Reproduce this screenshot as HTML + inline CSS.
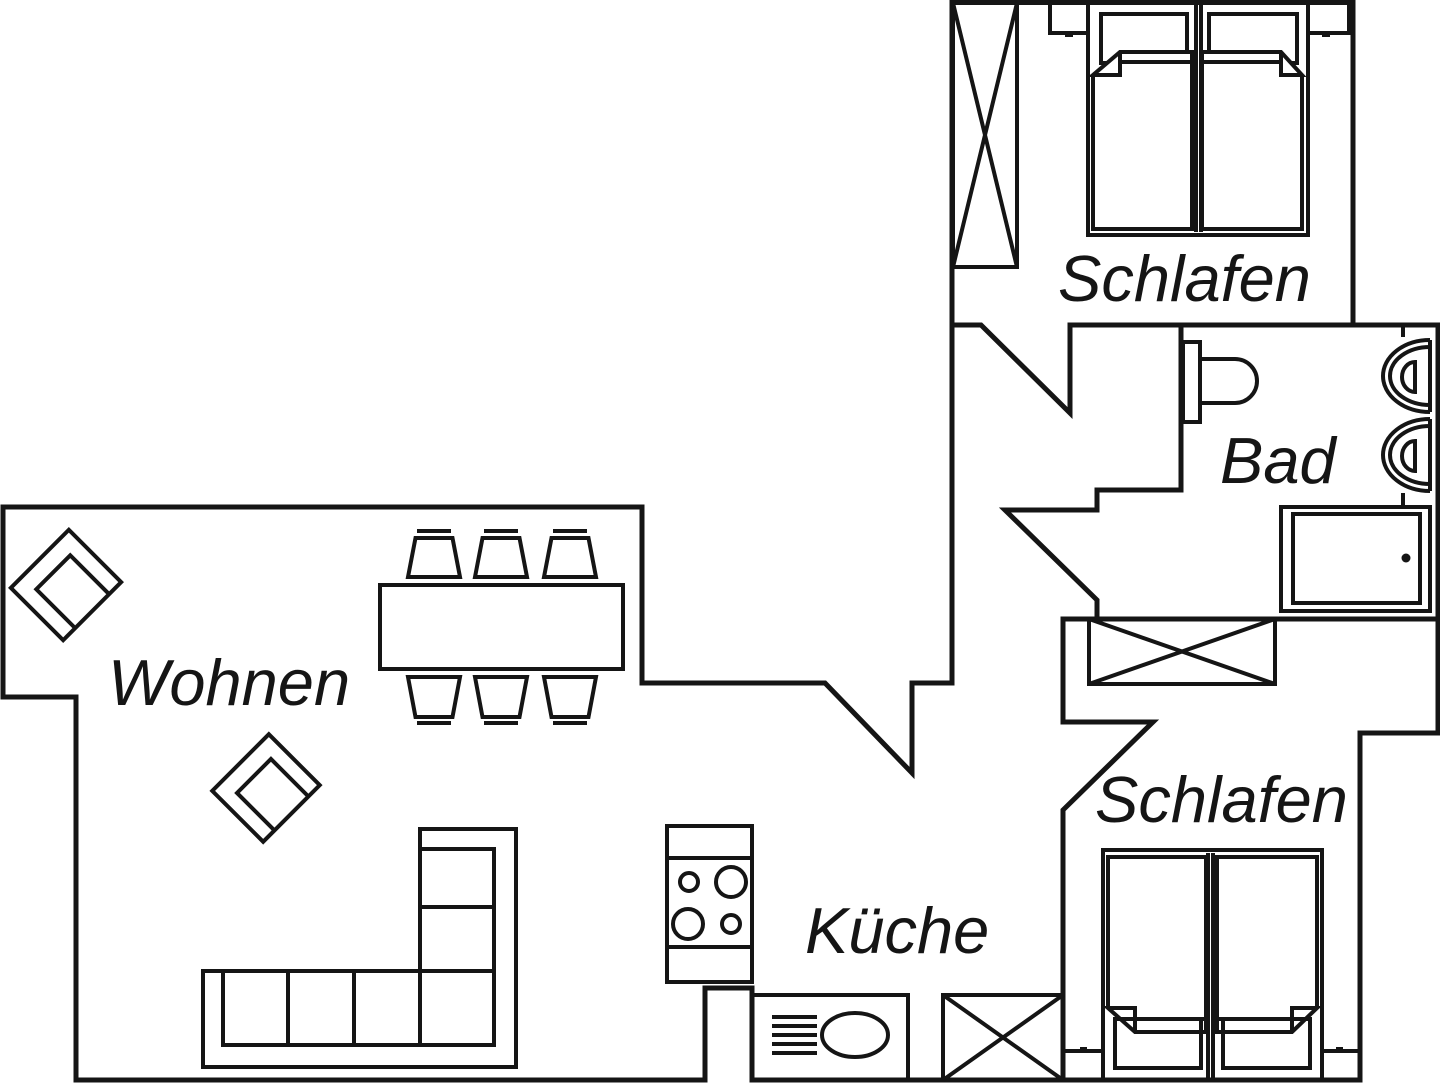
<!DOCTYPE html>
<html>
<head>
<meta charset="utf-8">
<style>
  html,body{margin:0;padding:0;background:#fff;}
  svg{display:block;}
  text{font-family:"Liberation Sans",Arial,sans-serif;font-style:italic;fill:#151515;}
</style>
</head>
<body>
<svg width="1440" height="1083" viewBox="0 0 1440 1083" xmlns="http://www.w3.org/2000/svg">
  <rect x="0" y="0" width="1440" height="1083" fill="#fff"/>

  <!-- WALLS -->
  <g fill="none" stroke="#151515" stroke-width="5" stroke-linejoin="miter" stroke-linecap="square">
    <path d="M76,1080 V697 H3 V507 H642 V683 H825 L912,773 V683 H952 V2.5 H1353 V325"/>
    <path d="M76,1080 H705 V988 H752 V1080 H1360 V733 H1438 V325 H1070 V413 L981,325 H952"/>
    <path d="M1181,325 V490 H1097 V510 H1005 L1097,600 V619"/>
    <path d="M1063,619 H1438"/>
    <path d="M1063,619 V722 H1153 L1063,810 V1080"/>
  </g>

  <!-- FURNITURE -->
  <g fill="none" stroke="#151515" stroke-width="4" stroke-linejoin="miter">
    <!-- wardrobe top bedroom -->
    <rect x="953" y="3" width="64" height="264"/>
    <path d="M953,3 L1017,267 M1017,3 L953,267"/>

    <!-- top bed nightstands -->
    <rect x="1050" y="3" width="38" height="30"/>
    <rect x="1308" y="3" width="41" height="30"/>
    <!-- bed frame -->
    <path d="M1088,3 V235 H1308 V3"/>
    <path d="M1196,5 V232 M1201,5 V232"/>
    <!-- pillows -->
    <rect x="1101" y="14" width="86" height="49"/>
    <rect x="1209" y="14" width="88" height="49"/>
    <!-- left mattress -->
    <path d="M1093,75 V229 H1192 V52 H1120 L1093,75 H1120 V52" fill="#fff"/>
    <path d="M1120,62 H1192"/>
    <!-- right mattress -->
    <path d="M1302,75 V229 H1202 V52 H1281 L1302,75 H1281 V52" fill="#fff"/>
    <path d="M1202,62 H1281"/>

    <!-- toilet -->
    <rect x="1183" y="342" width="17" height="80"/>
    <path d="M1200,359 H1235 A22,22 0 0 1 1235,403 H1200"/>

    <!-- sinks -->
    <path d="M1403,325 V337 M1403,493 V507"/>
    <path d="M1430,340 A47,36 0 0 0 1430,412"/>
    <path d="M1430,347 A40,29 0 0 0 1430,405"/>
    <path d="M1430,340 V412"/>
    <path d="M1415,362 A13,15 0 0 0 1415,392 Z"/>
    <path d="M1430,419 A47,36 0 0 0 1430,491"/>
    <path d="M1430,426 A40,29 0 0 0 1430,484"/>
    <path d="M1430,419 V491"/>
    <path d="M1415,441 A13,15 0 0 0 1415,471 Z"/>

    <!-- bathtub -->
    <rect x="1281" y="507" width="149" height="104"/>
    <rect x="1293" y="514" width="127" height="89"/>

    <!-- hallway closet -->
    <rect x="1089" y="619" width="186" height="65"/>
    <path d="M1089,619 L1275,684 M1275,619 L1089,684"/>

    <!-- bottom bed -->
    <path d="M1103,1080 V850 H1322 V1080"/>
    <path d="M1208,853 V1080 M1213,853 V1080"/>
    <rect x="1115" y="1019" width="86" height="49"/>
    <rect x="1223" y="1019" width="87" height="49"/>
    <path d="M1108,1008 V857 H1206 V1032 H1135 L1108,1008 H1135 V1032"/>
    <path d="M1135,1019 H1206"/>
    <path d="M1317,1008 V857 H1217 V1032 H1292 L1317,1008 H1292 V1032"/>
    <path d="M1217,1019 H1292"/>
    <!-- nightstands -->
    <rect x="1063" y="1051" width="40" height="29"/>
    <rect x="1322" y="1051" width="38" height="29"/>

    <!-- kitchen X cabinet -->
    <rect x="943" y="995" width="120" height="85"/>
    <path d="M943,995 L1063,1080 M1063,995 L943,1080"/>

    <!-- oven box -->
    <rect x="752" y="995" width="156" height="85"/>
    <path d="M772,1017 H817 M772,1026 H817 M772,1035 H817 M772,1044 H817 M772,1053 H817"/>
    <ellipse cx="855" cy="1035" rx="33" ry="22"/>

    <!-- stove -->
    <rect x="667" y="826" width="85" height="156"/>
    <path d="M667,858 H752 M667,947 H752"/>
    <circle cx="689" cy="882" r="9"/>
    <circle cx="731" cy="882" r="15"/>
    <circle cx="688" cy="924" r="15"/>
    <circle cx="731" cy="924" r="9"/>

    <!-- sofa -->
    <path d="M203,971 V1067 H516 V829 H420 V971 Z"/>
    <path d="M223,971 V1045 H494 V849 H420"/>
    <path d="M288,971 V1045 M354,971 V1045 M420,971 V1045 M420,971 H494 M420,907 H494"/>

    <!-- dining table -->
    <rect x="380" y="585" width="243" height="84"/>

    <!-- armchairs -->
    <g transform="translate(66,585) rotate(45)">
      <rect x="-37" y="-41" width="74" height="82"/>
      <path d="M37,-24 H-18 V24 H37"/>
    </g>
    <g transform="translate(266,788) rotate(45)">
      <rect x="-36" y="-40" width="72" height="80"/>
      <path d="M36,-24 H-17 V24 H36"/>
    </g>
  </g>

  <!-- small filled details -->
  <g fill="#151515">
    <rect x="1065" y="33" width="8" height="4"/>
    <rect x="1322" y="33" width="8" height="4"/>
    <rect x="1080" y="1047" width="7" height="4"/>
    <rect x="1336" y="1047" width="7" height="4"/>
    <circle cx="1406" cy="558" r="4.5"/>
  </g>

  <!-- dining chairs -->
  <g fill="none" stroke="#151515" stroke-width="4" stroke-linejoin="miter">
    <path d="M415.5,538 H452.5 L460,577 H408 Z"/>
    <path d="M482.5,538 H519.5 L527,577 H475 Z"/>
    <path d="M551.5,538 H588.5 L596,577 H544 Z"/>
    <path d="M417,531 H451 M484,531 H518 M553,531 H587"/>
    <path d="M408,677 H460 L452.5,717 H415.5 Z"/>
    <path d="M475,677 H527 L519.5,717 H482.5 Z"/>
    <path d="M544,677 H596 L588.5,717 H551.5 Z"/>
    <path d="M417,723 H451 M484,723 H518 M553,723 H587"/>
  </g>

  <!-- LABELS -->
  <text x="1058" y="301" font-size="65">Schlafen</text>
  <text x="1220" y="483" font-size="65">Bad</text>
  <text x="1095" y="822" font-size="65">Schlafen</text>
  <text x="805" y="953" font-size="65">Küche</text>
  <text x="108" y="705" font-size="65">Wohnen</text>
</svg>
</body>
</html>
